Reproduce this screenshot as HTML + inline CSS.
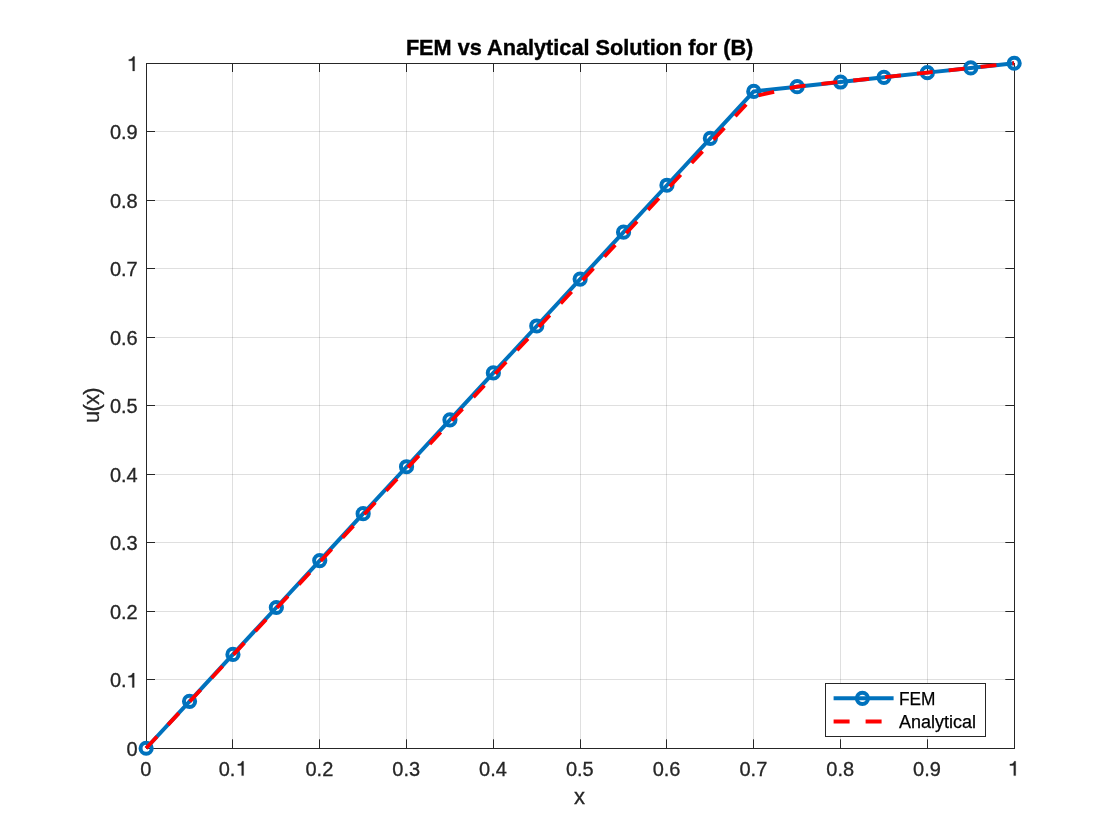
<!DOCTYPE html>
<html><head><meta charset="utf-8"><title>FEM vs Analytical Solution for (B)</title>
<style>html,body{margin:0;padding:0;background:#fff;}body{width:1120px;height:840px;overflow:hidden;}svg{display:block;will-change:transform;}text{font-family:"Liberation Sans",sans-serif;fill:#262626;}</style>
</head><body>
<svg width="1120" height="840" viewBox="0 0 1120 840">
<rect x="0" y="0" width="1120" height="840" fill="#ffffff"/>
<path d="M232.5 64.0V748.0M319.5 64.0V748.0M406.5 64.0V748.0M493.5 64.0V748.0M580.5 64.0V748.0M666.5 64.0V748.0M753.5 64.0V748.0M840.5 64.0V748.0M927.5 64.0V748.0" stroke="#262626" stroke-opacity="0.15" stroke-width="1" fill="none"/>
<path d="M147.0 679.5H1014.0M147.0 611.5H1014.0M147.0 542.5H1014.0M147.0 474.5H1014.0M147.0 405.5H1014.0M147.0 337.5H1014.0M147.0 268.5H1014.0M147.0 200.5H1014.0M147.0 131.5H1014.0" stroke="#262626" stroke-opacity="0.15" stroke-width="1" fill="none"/>
<rect x="146.5" y="63.5" width="868.0" height="685.0" fill="none" stroke="#262626" stroke-width="1"/>
<path d="M232.50 748.50v-9.20M232.50 63.50v8.50M146.50 679.50h8.50M1014.50 679.50h-9.20M319.50 748.50v-9.20M319.50 63.50v8.50M146.50 611.50h8.50M1014.50 611.50h-9.20M406.50 748.50v-9.20M406.50 63.50v8.50M146.50 542.50h8.50M1014.50 542.50h-9.20M493.50 748.50v-9.20M493.50 63.50v8.50M146.50 474.50h8.50M1014.50 474.50h-9.20M580.50 748.50v-9.20M580.50 63.50v8.50M146.50 405.50h8.50M1014.50 405.50h-9.20M666.50 748.50v-9.20M666.50 63.50v8.50M146.50 337.50h8.50M1014.50 337.50h-9.20M753.50 748.50v-9.20M753.50 63.50v8.50M146.50 268.50h8.50M1014.50 268.50h-9.20M840.50 748.50v-9.20M840.50 63.50v8.50M146.50 200.50h8.50M1014.50 200.50h-9.20M927.50 748.50v-9.20M927.50 63.50v8.50M146.50 131.50h8.50M1014.50 131.50h-9.20" stroke="#262626" stroke-width="1" fill="none"/>
<g font-size="20" stroke="#262626" stroke-width="0.3">
<text x="145.80" y="775.60" text-anchor="middle">0</text>
<text x="218.70" y="775.60">0.</text>
<path d="M0 0H-1.9V-10.1H-5.8V-11.5C-3.8 -11.5 -2 -12.2 -1.45 -14.3H0Z" transform="translate(243.60 775.60)" fill="#262626"/>
<text x="319.40" y="775.60" text-anchor="middle">0.2</text>
<text x="406.20" y="775.60" text-anchor="middle">0.3</text>
<text x="493.00" y="775.60" text-anchor="middle">0.4</text>
<text x="579.80" y="775.60" text-anchor="middle">0.5</text>
<text x="666.60" y="775.60" text-anchor="middle">0.6</text>
<text x="753.40" y="775.60" text-anchor="middle">0.7</text>
<text x="840.20" y="775.60" text-anchor="middle">0.8</text>
<text x="927.00" y="775.60" text-anchor="middle">0.9</text>
<path d="M0 0H-1.9V-10.1H-5.8V-11.5C-3.8 -11.5 -2 -12.2 -1.45 -14.3H0Z" transform="translate(1015.70 775.60)" fill="#262626"/>
<text x="137.70" y="755.90" text-anchor="end">0</text>
<text x="109.90" y="687.40">0.</text>
<path d="M0 0H-1.9V-10.1H-5.8V-11.5C-3.8 -11.5 -2 -12.2 -1.45 -14.3H0Z" transform="translate(134.20 687.40)" fill="#262626"/>
<text x="137.70" y="618.90" text-anchor="end">0.2</text>
<text x="137.70" y="550.40" text-anchor="end">0.3</text>
<text x="137.70" y="481.90" text-anchor="end">0.4</text>
<text x="137.70" y="413.40" text-anchor="end">0.5</text>
<text x="137.70" y="344.90" text-anchor="end">0.6</text>
<text x="137.70" y="276.40" text-anchor="end">0.7</text>
<text x="137.70" y="207.90" text-anchor="end">0.8</text>
<text x="137.70" y="139.40" text-anchor="end">0.9</text>
<path d="M0 0H-1.9V-10.1H-5.8V-11.5C-3.8 -11.5 -2 -12.2 -1.45 -14.3H0Z" transform="translate(134.60 70.90)" fill="#262626"/>
</g>
<text x="579.6" y="803.8" font-size="22" stroke="#262626" stroke-width="0.3" text-anchor="middle">x</text>
<text transform="translate(99.2 405.6) rotate(-90)" font-size="22" letter-spacing="-0.8" stroke="#262626" stroke-width="0.3" text-anchor="middle">u(x)</text>
<text x="579.6" y="54.9" font-size="21.7" font-weight="bold" style="fill:#000" stroke="#000" stroke-width="0.4" text-anchor="middle">FEM vs Analytical Solution for (B)</text>
<polyline points="146.15,748.25 189.55,701.33 232.95,654.41 276.35,607.50 319.75,560.58 363.15,513.66 406.55,466.74 449.95,419.83 493.35,372.91 536.75,325.99 580.15,279.07 623.55,232.15 666.95,185.24 710.35,138.32 753.75,91.40 797.15,86.71 840.55,82.02 883.95,77.33 927.35,72.63 970.75,67.94 1014.15,63.25" fill="none" stroke="#0072bd" stroke-width="4" stroke-linejoin="round"/>
<g fill="none" stroke="#0072bd" stroke-width="4">
<circle cx="146.15" cy="748.25" r="5.6"/>
<circle cx="189.55" cy="701.33" r="5.6"/>
<circle cx="232.95" cy="654.41" r="5.6"/>
<circle cx="276.35" cy="607.50" r="5.6"/>
<circle cx="319.75" cy="560.58" r="5.6"/>
<circle cx="363.15" cy="513.66" r="5.6"/>
<circle cx="406.55" cy="466.74" r="5.6"/>
<circle cx="449.95" cy="419.83" r="5.6"/>
<circle cx="493.35" cy="372.91" r="5.6"/>
<circle cx="536.75" cy="325.99" r="5.6"/>
<circle cx="580.15" cy="279.07" r="5.6"/>
<circle cx="623.55" cy="232.15" r="5.6"/>
<circle cx="666.95" cy="185.24" r="5.6"/>
<circle cx="710.35" cy="138.32" r="5.6"/>
<circle cx="753.75" cy="91.40" r="5.6"/>
<circle cx="797.15" cy="86.71" r="5.6"/>
<circle cx="840.55" cy="82.02" r="5.6"/>
<circle cx="883.95" cy="77.33" r="5.6"/>
<circle cx="927.35" cy="72.63" r="5.6"/>
<circle cx="970.75" cy="67.94" r="5.6"/>
<circle cx="1014.15" cy="63.25" r="5.6"/>
</g>
<polyline points="146.15,748.25 189.55,701.69 232.95,655.13 276.35,608.57 319.75,562.01 363.15,515.45 406.55,468.89 449.95,422.33 493.35,375.77 536.75,329.21 580.15,282.66 623.55,236.10 666.95,189.54 710.35,142.98 753.75,96.42 797.15,86.53 840.55,81.87 883.95,77.22 927.35,72.56 970.75,67.91 1014.15,63.25" fill="none" stroke="#ff0000" stroke-width="3.8" stroke-dasharray="16 16" stroke-linejoin="round"/>
<rect x="825.5" y="683.5" width="160" height="53" fill="#ffffff" stroke="#262626" stroke-width="1"/>
<path d="M833.6 698.3H893.6" stroke="#0072bd" stroke-width="4" fill="none"/>
<circle cx="862.4" cy="698.3" r="5.6" fill="none" stroke="#0072bd" stroke-width="4"/>
<path d="M833.6 721.4H893.6" stroke="#ff0000" stroke-width="4" fill="none" stroke-dasharray="16 16"/>
<text x="898.9" y="704.8" font-size="18" style="fill:#000" stroke="#000" stroke-width="0.25" textLength="36.5" lengthAdjust="spacingAndGlyphs">FEM</text>
<text x="898.9" y="727.8" font-size="18" style="fill:#000" stroke="#000" stroke-width="0.25">Analytical</text>
</svg></body></html>
